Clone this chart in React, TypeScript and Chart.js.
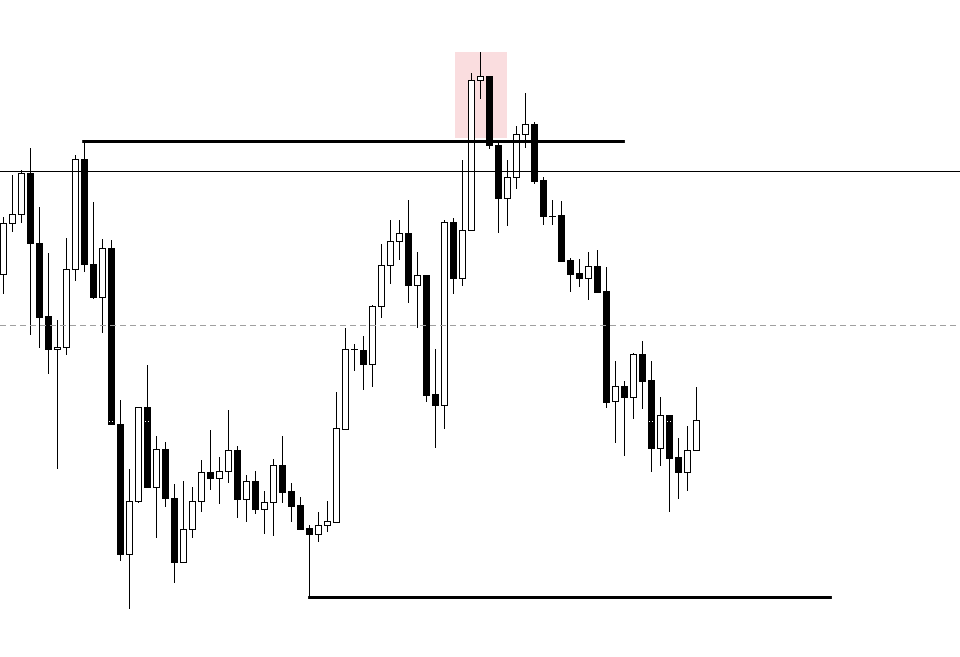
import React, { useEffect, useRef } from "react";
import { Chart, registerables } from "chart.js";

Chart.register(...registerables);

// Price values (arbitrary price units, higher = higher price)
const opens = [
  383, 434, 443, 484, 414, 341, 308, 310, 388, 498, 393, 360, 409, 233, 103, 156, 250, 170, 208, 159,
  95, 128, 156, 185, 179, 186, 207, 158, 176, 148, 155, 192, 166, 152, 129, 123, 132, 135, 228, 308,
  307, 293, 351, 392, 416, 424, 372, 382, 263, 252, 435, 379, 427, 577, 581, 512, 459, 480, 523, 533,
  477, 441, 442, 397, 384, 379, 391, 366, 256, 271, 260, 303, 277, 209, 242, 200, 185, 207,
];
const highs = [
  440, 482, 487, 509, 450, 404, 337, 419, 502, 514, 455, 418, 417, 257, 188, 250, 292, 221, 215, 173,
  176, 170, 197, 227, 200, 247, 211, 182, 186, 166, 198, 221, 174, 160, 132, 145, 156, 265, 329, 313,
  321, 352, 413, 437, 437, 457, 405, 382, 308, 437, 439, 497, 584, 605, 581, 517, 497, 531, 564, 535,
  480, 457, 456, 399, 398, 405, 407, 390, 296, 276, 304, 316, 296, 260, 242, 219, 231, 270,
];
const lows = [
  364, 426, 435, 323, 310, 284, 189, 303, 377, 386, 359, 325, 233, 97, 49, 155, 170, 120, 151, 75,
  95, 120, 146, 168, 154, 175, 140, 136, 144, 124, 122, 155, 136, 128, 107, 116, 126, 135, 228, 287,
  268, 271, 340, 374, 398, 355, 330, 256, 210, 229, 364, 372, 427, 559, 509, 425, 432, 469, 510, 474,
  433, 433, 396, 366, 371, 358, 365, 250, 215, 202, 239, 249, 186, 192, 146, 159, 167, 207,
];
const closes = [
  434, 443, 484, 414, 340, 308, 310, 388, 498, 393, 360, 409, 233, 103, 156, 250, 170, 208, 159, 95,
  128, 156, 185, 179, 186, 207, 158, 176, 148, 155, 192, 165, 151, 128, 123, 132, 136, 229, 308, 308,
  293, 351, 392, 416, 424, 372, 382, 262, 252, 435, 379, 427, 577, 581, 512, 459, 480, 523, 533, 476,
  441, 441, 396, 383, 379, 391, 365, 255, 271, 260, 303, 276, 209, 242, 199, 185, 207, 237,
];

// Annotation levels (price units) and spans (bar index units)
const resistanceLevel = 516;
const resistanceSpan = [8.8, 69.1];
const pivotLevel = 486.5;
const midLevel = 331.5;
const hiddenLevel = 236;
const supportLevel = 60;
const supportSpan = [33.9, 92.1];
const supportAnchorIndex = 34;
const highlightX = [50.17, 56.0];
const highlightY = [519, 605];

const X_MIN = -1 / 3;
const X_MAX = X_MIN + 960 / 9;
const Y_MIN = 0;
const Y_MAX = 657;

const candlePlugin = {
  id: "candles",
  beforeDatasetsDraw(chart: any) {
    const { ctx, scales } = chart;
    const x = scales.x;
    const y = scales.y;
    ctx.save();
    ctx.fillStyle = "rgb(250, 221, 223)";
    const bx0 = Math.round(x.getPixelForValue(highlightX[0]));
    const bx1 = Math.round(x.getPixelForValue(highlightX[1]));
    const by0 = Math.round(y.getPixelForValue(highlightY[1]));
    const by1 = Math.round(y.getPixelForValue(highlightY[0]));
    ctx.fillRect(bx0, by0, bx1 - bx0, by1 - by0);
    ctx.restore();
  },
  afterDatasetsDraw(chart: any) {
    const { ctx, scales, chartArea } = chart;
    const x = scales.x;
    const y = scales.y;
    const step = Math.abs(x.getPixelForValue(1) - x.getPixelForValue(0));
    const half = Math.round(step * 0.35);
    const hiddenPy = Math.round(y.getPixelForValue(hiddenLevel));
    ctx.save();
    for (let i = 0; i < opens.length; i++) {
      const cx = Math.round(x.getPixelForValue(i));
      const yo = Math.round(y.getPixelForValue(opens[i]));
      const yc = Math.round(y.getPixelForValue(closes[i]));
      const yh = Math.round(y.getPixelForValue(highs[i]));
      const yl = Math.round(y.getPixelForValue(lows[i]));
      const top = Math.min(yo, yc);
      const bot = Math.max(yo, yc);
      // wick
      ctx.strokeStyle = "#000";
      ctx.lineWidth = 1;
      ctx.beginPath();
      ctx.moveTo(cx + 0.5, yh);
      ctx.lineTo(cx + 0.5, yl + 1);
      ctx.stroke();
      const left = cx - half;
      const w = half * 2;
      if (bot - top < 1) {
        ctx.beginPath();
        ctx.moveTo(left, top + 0.5);
        ctx.lineTo(left + w + 1, top + 0.5);
        ctx.stroke();
      } else if (closes[i] < opens[i]) {
        ctx.fillStyle = "#000";
        ctx.fillRect(left, top, w + 1, bot - top + 1);
        // faint white dotted level, visible only across dark bodies
        if (hiddenPy > top && hiddenPy < bot) {
          ctx.fillStyle = "#fff";
          for (let px = left + 1; px < left + w; px += 3) {
            ctx.fillRect(px, hiddenPy, 1, 1);
          }
        }
      } else {
        ctx.fillStyle = "#fff";
        ctx.fillRect(left, top, w + 1, bot - top + 1);
        ctx.strokeRect(left + 0.5, top + 0.5, w, bot - top);
      }
    }

    const hLine = (level: number, x0: number, x1: number, width: number, color: string, dash: number[]) => {
      const py = Math.round(y.getPixelForValue(level));
      ctx.save();
      ctx.strokeStyle = color;
      ctx.lineWidth = width;
      ctx.setLineDash(dash);
      ctx.beginPath();
      const off = width % 2 === 1 ? 0.5 : 0;
      ctx.moveTo(x0, py + off);
      ctx.lineTo(x1, py + off);
      ctx.stroke();
      ctx.restore();
    };

    hLine(midLevel, chartArea.left, chartArea.right, 1, "#a0a0a0", [6, 4]);
    hLine(pivotLevel, chartArea.left, chartArea.right, 1, "#000", []);
    hLine(
      resistanceLevel,
      x.getPixelForValue(resistanceSpan[0]),
      x.getPixelForValue(resistanceSpan[1]),
      3,
      "#000",
      []
    );
    hLine(
      supportLevel,
      x.getPixelForValue(supportSpan[0]),
      x.getPixelForValue(supportSpan[1]),
      3,
      "#000",
      []
    );
    // vertical anchor from the support candle down to the support line
    const ax = Math.round(x.getPixelForValue(supportAnchorIndex)) + 0.5;
    ctx.strokeStyle = "#000";
    ctx.lineWidth = 1;
    ctx.beginPath();
    ctx.moveTo(ax, y.getPixelForValue(Math.min(opens[supportAnchorIndex], closes[supportAnchorIndex])));
    ctx.lineTo(ax, y.getPixelForValue(supportLevel));
    ctx.stroke();
    ctx.restore();
  },
};

export default function App() {
  const canvasRef = useRef<HTMLCanvasElement | null>(null);

  useEffect(() => {
    if (!canvasRef.current) return;
    const chart = new Chart(canvasRef.current, {
      type: "scatter",
      data: {
        datasets: [
          {
            label: "close",
            data: closes.map((c, i) => ({ x: i, y: c })),
            pointRadius: 0,
            showLine: false,
            borderColor: "rgba(0,0,0,0)",
            backgroundColor: "rgba(0,0,0,0)",
          },
        ],
      },
      options: {
        animation: false,
        responsive: false,
        maintainAspectRatio: false,
        layout: { padding: 0 },
        plugins: {
          legend: { display: false },
          tooltip: { enabled: false },
          title: { display: false },
        },
        events: [],
        scales: {
          x: { type: "linear", min: X_MIN, max: X_MAX, display: false, grid: { display: false } },
          y: { type: "linear", min: Y_MIN, max: Y_MAX, display: false, grid: { display: false } },
        },
      },
      plugins: [candlePlugin],
    });
    return () => chart.destroy();
  }, []);

  return (
    <div style={{ position: "absolute", left: 0, top: 0, width: 960, height: 657, background: "#fff" }}>
      <canvas ref={canvasRef} width={960} height={657} style={{ display: "block" }} />
    </div>
  );
}
